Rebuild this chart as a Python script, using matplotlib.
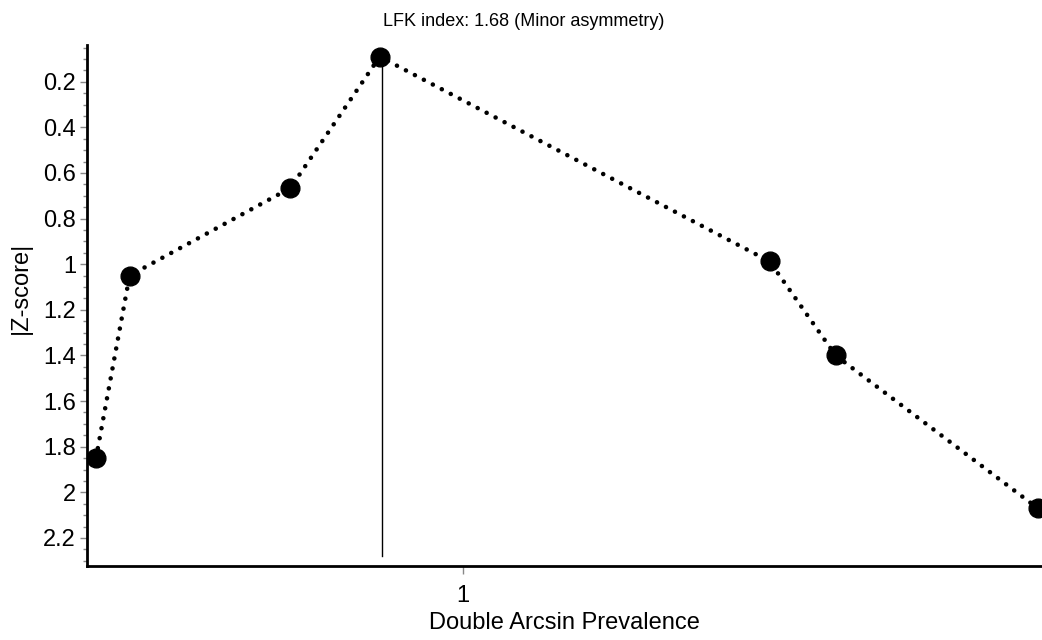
import matplotlib
matplotlib.use("Agg")
import matplotlib.pyplot as plt
from matplotlib.ticker import FixedLocator, MultipleLocator

plt.rcParams['font.family'] = ['Liberation Sans', 'DejaVu Sans']

# Data
prevalence = [0.388, 0.444, 0.712, 0.861, 1.511, 1.621, 1.958]
zscore = [1.85, 1.05, 0.666, 0.09, 0.988, 1.40, 2.07]
peak_x = 0.864
peak_z = 0.09
title = "LFK index: 1.68 (Minor asymmetry)"
xlabel = "Double Arcsin Prevalence"
ylabel = "|Z-score|"
xticks = [1]
yticks = [0.2, 0.4, 0.6, 0.8, 1.0, 1.2, 1.4, 1.6, 1.8, 2.0, 2.2]
yticklabels = ["0.2", "0.4", "0.6", "0.8", "1", "1.2", "1.4", "1.6", "1.8", "2", "2.2"]

W, H = 1042, 640
fig = plt.figure(figsize=(W / 100, H / 100), dpi=100)
left, right, top, bottom = 87, 1042, 45, 566
ax = fig.add_axes([left / W, 1 - bottom / H, (right - left) / W, (bottom - top) / H])

ax.plot(prevalence, zscore, color='black', linewidth=3.3,
        linestyle=(0, (0.01, 2.2)), dash_capstyle='round', zorder=2, clip_on=False)
ax.plot(prevalence, zscore, 'o', color='black', markersize=13.5, zorder=3, clip_on=True)
ax.plot([peak_x, peak_x], [peak_z, 2.28], color='black', linewidth=1.0, zorder=1)

ax.set_xlim(0.373, 1.965)
ax.set_ylim(2.323, 0.039)

ax.xaxis.set_major_locator(FixedLocator(xticks))
ax.set_xticklabels(["1"])
ax.yaxis.set_major_locator(FixedLocator(yticks))
ax.set_yticklabels(yticklabels)
ax.yaxis.set_minor_locator(MultipleLocator(0.05))

for s in ['top', 'right']:
    ax.spines[s].set_visible(False)
for s in ['left', 'bottom']:
    ax.spines[s].set_linewidth(2.0)
    ax.spines[s].set_color('black')

ax.tick_params(axis='both', which='major', direction='out', length=5, width=1,
               color='#888888', labelsize=17, pad=3)
ax.tick_params(axis='x', which='major', length=6, pad=8)
ax.tick_params(axis='y', which='minor', direction='out', length=3, width=1,
               color='#888888')

ax.set_xlabel(xlabel, fontsize=17, labelpad=3)
ax.set_ylabel(ylabel, fontsize=17)
ax.yaxis.set_label_coords(-0.058, 0.534)
fig.text(0.503, 1 - 21 / H, title, ha='center', va='center', fontsize=13)

fig.savefig("out.png", dpi=100)
